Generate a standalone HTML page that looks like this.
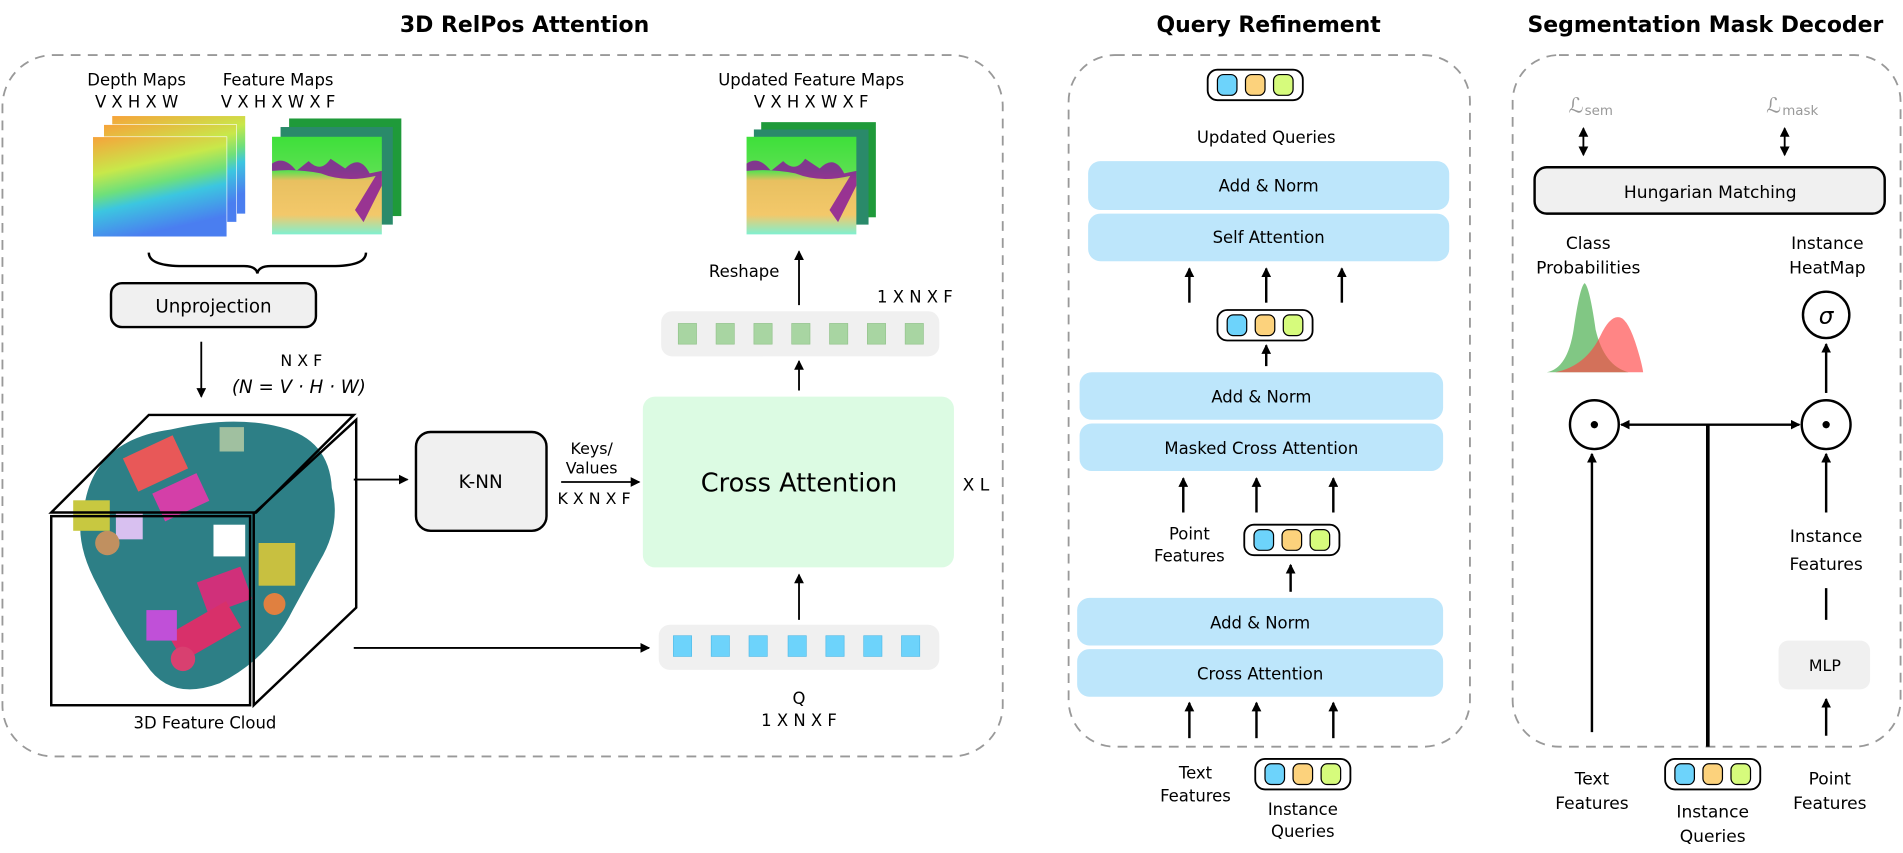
<!DOCTYPE html>
<html><head><meta charset="utf-8"><style>
html,body{margin:0;padding:0;background:#fff;}
svg{display:block;}
text{font-family:"DejaVu Sans","Liberation Sans",sans-serif;fill:#000;}
</style></head><body>
<svg width="1903" height="853" viewBox="0 0 1560 699" xmlns="http://www.w3.org/2000/svg">
<defs>
<marker id="ah" markerWidth="8" markerHeight="8" refX="7" refY="4" orient="auto" markerUnits="userSpaceOnUse"><path d="M0,0 L8,4 L0,8 z" fill="#000"/></marker>
<marker id="ahs" markerWidth="8" markerHeight="8" refX="1" refY="4" orient="auto" markerUnits="userSpaceOnUse"><path d="M8,0 L0,4 L8,8 z" fill="#000"/></marker>
<linearGradient id="dep" x1="0" y1="0" x2="0.3" y2="1">
<stop offset="0" stop-color="#f7a23a"/><stop offset="0.35" stop-color="#c8e84a"/><stop offset="0.55" stop-color="#6fe07a"/><stop offset="0.7" stop-color="#3cc6e0"/><stop offset="1" stop-color="#4a7ef0"/></linearGradient>
<linearGradient id="feat" x1="0" y1="0" x2="0" y2="1">
<stop offset="0" stop-color="#3ee03a"/><stop offset="0.35" stop-color="#5ae050"/><stop offset="0.45" stop-color="#e8c060"/><stop offset="0.8" stop-color="#f3c86a"/><stop offset="1" stop-color="#80f0d0"/></linearGradient>
<g id="tok">
<rect x="0" y="0" width="78" height="25" rx="8" fill="#fff" stroke="#000" stroke-width="1.5"/>
<rect x="8" y="4" width="16" height="17" rx="5" fill="#6dd3fb" stroke="#000" stroke-width="1"/>
<rect x="31" y="4" width="16" height="17" rx="5" fill="#fcd27c" stroke="#000" stroke-width="1"/>
<rect x="54" y="4" width="16" height="17" rx="5" fill="#d6fb7c" stroke="#000" stroke-width="1"/>
</g>
<g id="fimg">
<rect x="0" y="0" width="90" height="80" fill="url(#feat)"/>
<path d="M0,22 Q10,15 20,28 L30,20 Q40,30 48,18 L60,26 Q72,14 80,30 L90,28 L90,40 L75,70 L68,60 L85,32 Q60,38 40,30 Q20,26 0,28 z" fill="#8a1a9a" opacity="0.85"/>
</g>
</defs>

<!-- titles -->
<text x="430" y="26" font-size="18" font-weight="bold" text-anchor="middle">3D RelPos Attention</text>
<text x="1040" y="26" font-size="18" font-weight="bold" text-anchor="middle">Query Refinement</text>
<text x="1398" y="26" font-size="18" font-weight="bold" text-anchor="middle">Segmentation Mask Decoder</text>

<!-- panels -->
<rect x="2" y="45" width="820" height="575" rx="42" fill="none" stroke="#999" stroke-width="1.5" stroke-dasharray="8,6"/>
<rect x="876" y="45" width="329" height="567" rx="38" fill="none" stroke="#999" stroke-width="1.5" stroke-dasharray="8,6"/>
<rect x="1240" y="45" width="318" height="567" rx="38" fill="none" stroke="#999" stroke-width="1.5" stroke-dasharray="8,6"/>

<!-- Panel 1 -->
<text x="112" y="70" font-size="13.5" text-anchor="middle">Depth Maps</text>
<text x="112" y="88" font-size="13.5" text-anchor="middle">V X H X W</text>
<text x="228" y="70" font-size="13.5" text-anchor="middle">Feature Maps</text>
<text x="228" y="88" font-size="13.5" text-anchor="middle">V X H X W X F</text>

<rect x="92" y="95" width="109" height="80" fill="url(#dep)"/>
<rect x="85" y="102" width="109" height="80" fill="url(#dep)" stroke="#fff" stroke-width="0.5"/>
<rect x="76" y="112" width="110" height="82" fill="url(#dep)" stroke="#fff" stroke-width="0.5"/>

<rect x="237" y="97" width="92" height="80" fill="#1f9a3a"/>
<rect x="230" y="104" width="92" height="80" fill="#2a8a6a"/>
<use href="#fimg" x="223" y="112"/>

<path d="M122,207 Q122,218 150,218 L200,218 Q210,218 211,224 Q212,218 222,218 L272,218 Q300,218 300,207" fill="none" stroke="#000" stroke-width="2"/>
<rect x="91" y="232" width="168" height="36" rx="9" fill="#f0f0f0" stroke="#000" stroke-width="2"/>
<text x="175" y="256" font-size="15" text-anchor="middle">Unprojection</text>

<line x1="165" y1="280" x2="165" y2="325" stroke="#000" stroke-width="1.5" marker-end="url(#ah)"/>
<text x="247" y="300" font-size="13" text-anchor="middle">N X  F</text>
<text x="245" y="322" font-size="15" font-style="italic" font-family="Liberation Serif,serif" text-anchor="middle">(N = V · H · W)</text>

<!-- cube and cloud -->
<path d="M70,410 Q80,360 140,352 Q190,340 230,350 Q270,360 272,400 Q280,430 262,460 L240,500 Q220,540 180,560 Q140,575 120,545 Q100,520 80,480 Q58,440 70,410 z" fill="#2d7f86"/>
<rect x="105" y="365" width="45" height="30" fill="#e85858" transform="rotate(-25 127 380)"/>
<rect x="128" y="395" width="40" height="25" fill="#d43fa8" transform="rotate(-25 148 407)"/>
<rect x="95" y="420" width="22" height="22" fill="#d8c0f0"/>
<rect x="165" y="470" width="38" height="28" fill="#d0307a" transform="rotate(-20 184 484)"/>
<rect x="140" y="505" width="55" height="25" fill="#d8306a" transform="rotate(-30 167 517)"/>
<rect x="120" y="500" width="25" height="25" fill="#c050d8"/>
<circle cx="150" cy="540" r="10" fill="#d84070"/>
<circle cx="88" cy="445" r="10" fill="#c09060"/>
<rect x="212" y="445" width="30" height="35" fill="#c8c040"/>
<rect x="175" y="430" width="26" height="26" fill="#ffffff"/>
<rect x="60" y="410" width="30" height="25" fill="#c8c840"/>
<rect x="180" y="350" width="20" height="20" fill="#a0c0a0"/>
<circle cx="225" cy="495" r="9" fill="#e08040"/>

<polygon points="42,420 122,340 290,340 210,420" fill="none" stroke="#000" stroke-width="2"/>
<rect x="42" y="423" width="163" height="155" fill="none" stroke="#000" stroke-width="2"/>
<polygon points="208,421 292,344 292,498 208,578" fill="none" stroke="#000" stroke-width="2"/>
<text x="168" y="597" font-size="13.5" text-anchor="middle">3D Feature Cloud</text>

<line x1="290" y1="393" x2="334" y2="393" stroke="#000" stroke-width="1.5" marker-end="url(#ah)"/>
<rect x="341" y="354" width="107" height="81" rx="12" fill="#f0f0f0" stroke="#000" stroke-width="2"/>
<text x="394" y="400" font-size="15" text-anchor="middle">K-NN</text>
<text x="485" y="372" font-size="13" text-anchor="middle">Keys/</text>
<text x="485" y="388" font-size="13" text-anchor="middle">Values</text>
<line x1="460" y1="395" x2="524" y2="395" stroke="#000" stroke-width="1.5" marker-end="url(#ah)"/>
<text x="487" y="413" font-size="13" text-anchor="middle">K X N X F</text>

<rect x="527" y="325" width="255" height="140" rx="10" fill="#dcfbe3"/>
<text x="655" y="403" font-size="21" text-anchor="middle">Cross Attention</text>
<text x="800" y="402" font-size="14" text-anchor="middle">X L</text>

<line x1="290" y1="531" x2="532" y2="531" stroke="#000" stroke-width="1.5" marker-end="url(#ah)"/>
<rect x="540" y="512" width="230" height="37" rx="9" fill="#f0f0f0"/>
<g fill="#6dd3fb" stroke="#4bb8e6" stroke-width="0.5">
<rect x="552" y="521" width="15" height="17"/><rect x="583" y="521" width="15" height="17"/><rect x="614" y="521" width="15" height="17"/><rect x="646" y="521" width="15" height="17"/><rect x="677" y="521" width="15" height="17"/><rect x="708" y="521" width="15" height="17"/><rect x="739" y="521" width="15" height="17"/>
</g>
<text x="655" y="577" font-size="13.5" text-anchor="middle">Q</text>
<text x="655" y="595" font-size="13.5" text-anchor="middle">1 X N X F</text>
<line x1="655" y1="508" x2="655" y2="471" stroke="#000" stroke-width="1.5" marker-end="url(#ah)"/>
<line x1="655" y1="320" x2="655" y2="296" stroke="#000" stroke-width="1.5" marker-end="url(#ah)"/>

<rect x="542" y="255" width="228" height="37" rx="9" fill="#f0f0f0"/>
<g fill="#a8d5a2" stroke="#8fc088" stroke-width="0.5">
<rect x="556" y="265" width="15" height="17"/><rect x="587" y="265" width="15" height="17"/><rect x="618" y="265" width="15" height="17"/><rect x="649" y="265" width="15" height="17"/><rect x="680" y="265" width="15" height="17"/><rect x="711" y="265" width="15" height="17"/><rect x="742" y="265" width="15" height="17"/>
</g>
<text x="750" y="248" font-size="13.5" text-anchor="middle">1 X N X F</text>
<line x1="655" y1="250" x2="655" y2="206" stroke="#000" stroke-width="1.5" marker-end="url(#ah)"/>
<text x="610" y="227" font-size="13.5" text-anchor="middle">Reshape</text>

<rect x="624" y="100" width="94" height="78" fill="#1f9a3a"/>
<rect x="618" y="106" width="94" height="78" fill="#2a8a6a"/>
<use href="#fimg" x="612" y="112"/>
<text x="665" y="70" font-size="13.5" text-anchor="middle">Updated Feature Maps</text>
<text x="665" y="88" font-size="13.5" text-anchor="middle">V X H X W X F</text>

<!-- Panel 2 -->
<use href="#tok" x="990" y="57"/>
<text x="1038" y="117" font-size="13.5" text-anchor="middle">Updated Queries</text>
<rect x="892" y="132" width="296" height="40" rx="10" fill="#bde6fb"/>
<text x="1040" y="157" font-size="13.5" text-anchor="middle">Add &amp; Norm</text>
<rect x="892" y="175" width="296" height="39" rx="10" fill="#bde6fb"/>
<text x="1040" y="199" font-size="13.5" text-anchor="middle">Self Attention</text>
<g stroke="#000" stroke-width="2" marker-end="url(#ah)">
<line x1="975" y1="248" x2="975" y2="220"/><line x1="1038" y1="248" x2="1038" y2="220"/><line x1="1100" y1="248" x2="1100" y2="220"/>
<line x1="1038" y1="300" x2="1038" y2="283"/>
<line x1="970" y1="420" x2="970" y2="392"/><line x1="1030" y1="420" x2="1030" y2="392"/><line x1="1093" y1="420" x2="1093" y2="392"/>
<line x1="1058" y1="485" x2="1058" y2="463"/>
<line x1="975" y1="605" x2="975" y2="576"/><line x1="1030" y1="605" x2="1030" y2="576"/><line x1="1093" y1="605" x2="1093" y2="576"/>
</g>
<use href="#tok" x="998" y="254"/>
<rect x="885" y="305" width="298" height="39" rx="10" fill="#bde6fb"/>
<text x="1034" y="330" font-size="13.5" text-anchor="middle">Add &amp; Norm</text>
<rect x="885" y="347" width="298" height="39" rx="10" fill="#bde6fb"/>
<text x="1034" y="372" font-size="13.5" text-anchor="middle">Masked Cross Attention</text>
<text x="975" y="442" font-size="13.5" text-anchor="middle">Point</text>
<text x="975" y="460" font-size="13.5" text-anchor="middle">Features</text>
<use href="#tok" x="1020" y="430"/>
<rect x="883" y="490" width="300" height="39" rx="10" fill="#bde6fb"/>
<text x="1033" y="515" font-size="13.5" text-anchor="middle">Add &amp; Norm</text>
<rect x="883" y="532" width="300" height="39" rx="10" fill="#bde6fb"/>
<text x="1033" y="557" font-size="13.5" text-anchor="middle">Cross Attention</text>
<text x="980" y="638" font-size="13.5" text-anchor="middle">Text</text>
<text x="980" y="657" font-size="13.5" text-anchor="middle">Features</text>
<use href="#tok" x="1029" y="622"/>
<text x="1068" y="668" font-size="13.5" text-anchor="middle">Instance</text>
<text x="1068" y="686" font-size="13.5" text-anchor="middle">Queries</text>

<!-- Panel 3 -->
<text x="1298" y="92" font-size="17" fill="#999" style="fill:#999" font-style="italic" font-family="Liberation Serif,serif" text-anchor="end">ℒ</text>
<text x="1299" y="94" font-size="11" style="fill:#999" font-family="Liberation Serif,serif">sem</text>
<text x="1460" y="92" font-size="17" style="fill:#999" font-style="italic" font-family="Liberation Serif,serif" text-anchor="end">ℒ</text>
<text x="1461" y="94" font-size="11" style="fill:#999" font-family="Liberation Serif,serif">mask</text>
<line x1="1298" y1="105" x2="1298" y2="127" stroke="#000" stroke-width="1.5" marker-end="url(#ah)" marker-start="url(#ahs)"/>
<line x1="1463" y1="105" x2="1463" y2="127" stroke="#000" stroke-width="1.5" marker-end="url(#ah)" marker-start="url(#ahs)"/>
<rect x="1258" y="137" width="287" height="38" rx="10" fill="#f0f0f0" stroke="#000" stroke-width="2"/>
<text x="1402" y="162" font-size="14" text-anchor="middle">Hungarian Matching</text>
<text x="1302" y="204" font-size="14" text-anchor="middle">Class</text>
<text x="1302" y="224" font-size="14" text-anchor="middle">Probabilities</text>
<text x="1498" y="204" font-size="14" text-anchor="middle">Instance</text>
<text x="1498" y="224" font-size="14" text-anchor="middle">HeatMap</text>
<path d="M1268,305 Q1285,302 1290,270 Q1295,235 1299,232 Q1303,235 1308,270 Q1315,300 1335,305 z" fill="#4caf50" opacity="0.7"/>
<path d="M1275,305 Q1300,300 1312,275 Q1320,258 1328,260 Q1335,262 1342,285 Q1346,298 1347,305 z" fill="#f44" opacity="0.65"/>
<circle cx="1497" cy="258" r="19" fill="#fff" stroke="#000" stroke-width="2"/>
<text x="1497" y="265" font-size="19" font-style="italic" font-family="Liberation Serif,serif" text-anchor="middle">σ</text>
<line x1="1497" y1="322" x2="1497" y2="282" stroke="#000" stroke-width="2" marker-end="url(#ah)"/>
<circle cx="1307" cy="348" r="20" fill="#fff" stroke="#000" stroke-width="2"/>
<circle cx="1307" cy="348" r="3" fill="#000"/>
<circle cx="1497" cy="348" r="20" fill="#fff" stroke="#000" stroke-width="2"/>
<circle cx="1497" cy="348" r="3" fill="#000"/>
<line x1="1329" y1="348" x2="1475" y2="348" stroke="#000" stroke-width="2" marker-end="url(#ah)" marker-start="url(#ahs)"/>
<line x1="1400" y1="348" x2="1400" y2="612" stroke="#000" stroke-width="3"/>
<line x1="1305" y1="600" x2="1305" y2="372" stroke="#000" stroke-width="2" marker-end="url(#ah)"/>
<line x1="1497" y1="420" x2="1497" y2="372" stroke="#000" stroke-width="2" marker-end="url(#ah)"/>
<text x="1497" y="444" font-size="14" text-anchor="middle">Instance</text>
<text x="1497" y="467" font-size="14" text-anchor="middle">Features</text>
<line x1="1497" y1="482" x2="1497" y2="508" stroke="#000" stroke-width="2"/>
<rect x="1458" y="525" width="75" height="40" rx="8" fill="#f0f0f0"/>
<text x="1496" y="550" font-size="13" text-anchor="middle">MLP</text>
<line x1="1497" y1="603" x2="1497" y2="573" stroke="#000" stroke-width="2" marker-end="url(#ah)"/>
<text x="1305" y="643" font-size="14" text-anchor="middle">Text</text>
<text x="1305" y="663" font-size="14" text-anchor="middle">Features</text>
<use href="#tok" x="1365" y="622"/>
<text x="1404" y="670" font-size="14" text-anchor="middle">Instance</text>
<text x="1404" y="690" font-size="14" text-anchor="middle">Queries</text>
<text x="1500" y="643" font-size="14" text-anchor="middle">Point</text>
<text x="1500" y="663" font-size="14" text-anchor="middle">Features</text>
</svg>
</body></html>
